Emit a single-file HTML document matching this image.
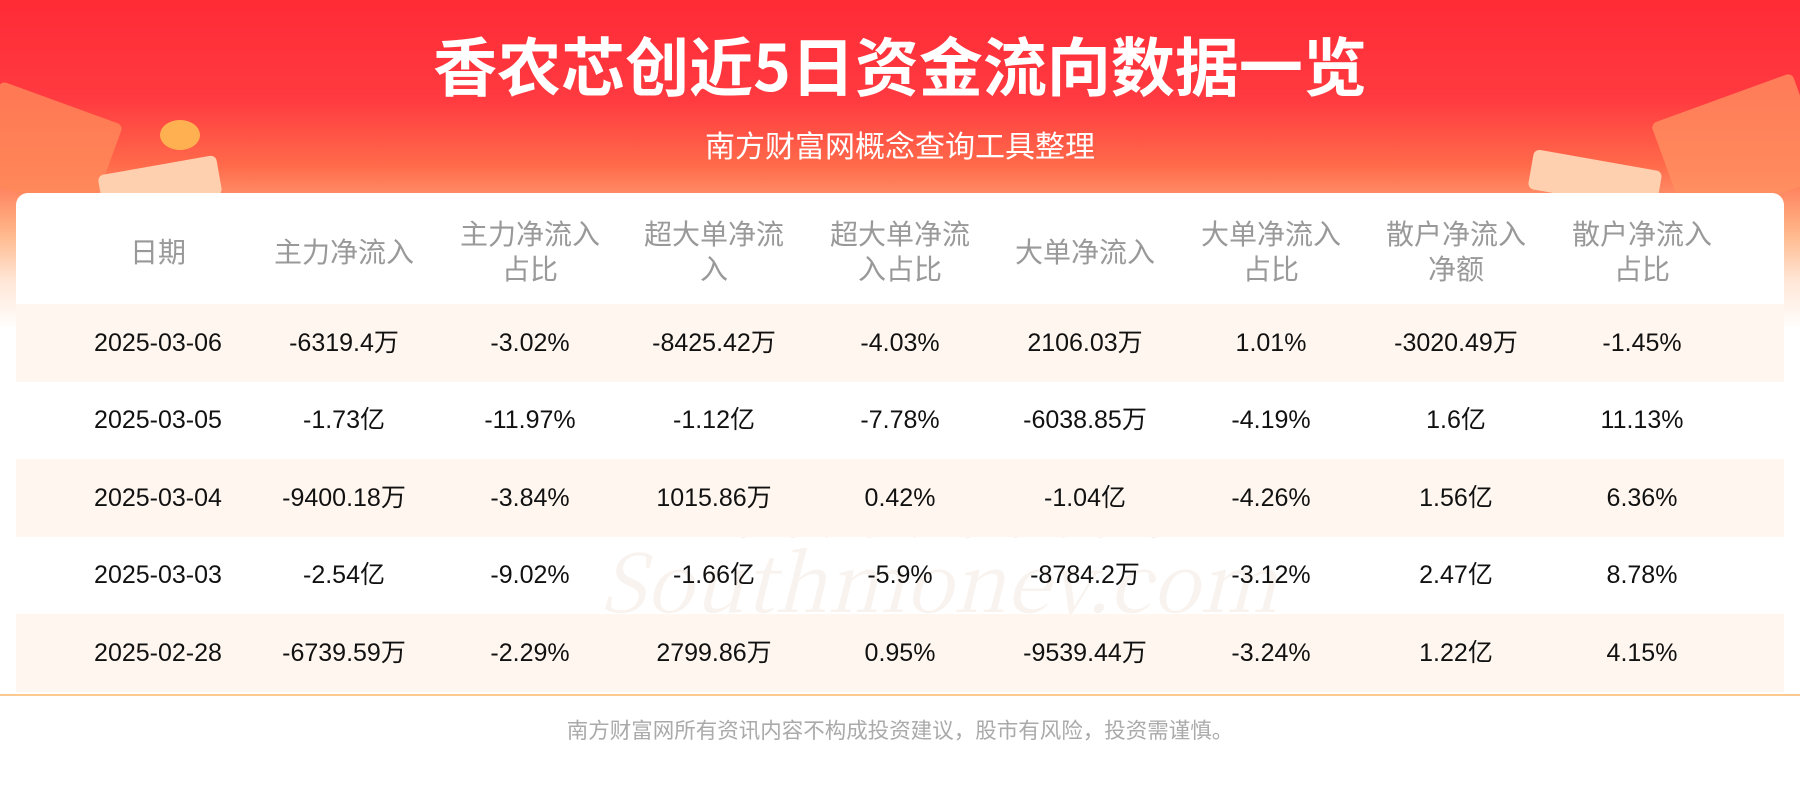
<!DOCTYPE html>
<html><head><meta charset="utf-8"><style>
*{margin:0;padding:0;box-sizing:border-box}
body{width:1800px;height:800px;overflow:hidden;background:#fff;font-family:"Liberation Sans","Noto Sans CJK SC",sans-serif;position:relative}
.bg{position:absolute;left:0;top:0;width:1800px;height:330px;background:linear-gradient(180deg,#ff2b36 0%,#ff3a40 30%,#ff6a4a 50%,#ffb487 70%,#ffe6d6 85%,#ffffff 100%)}
.deco{position:absolute;border-radius:6px}
.title{position:absolute;top:18px;width:1800px;text-align:center;color:#fff;font-size:64px;font-weight:bold;font-family:"Noto Sans CJK SC",sans-serif}
.sub{position:absolute;top:122px;width:1800px;text-align:center;color:#fff;font-size:30px;font-family:"Noto Sans CJK SC",sans-serif}
.card{position:absolute;left:16px;top:193px;width:1768px;height:505px;background:#fff;border-radius:12px}
.row{position:absolute;left:16px;width:1768px;height:78px}
.band{background:#fff7ef}
.c{position:absolute;top:0;width:186px;text-align:center;transform:translateX(-93px)}
.h{color:#999;font-size:28px;line-height:35px;font-family:"Noto Sans CJK SC",sans-serif;height:90px;display:flex;align-items:center;justify-content:center}
.d{color:#111;font-size:25px;height:78px;line-height:78px}
.line{position:absolute;left:0;top:694px;width:1800px;height:2px;background:#fcc98f}
.foot{position:absolute;top:714px;width:1800px;text-align:center;color:#aaa;font-size:21.5px;font-family:"Noto Sans CJK SC",sans-serif}
.wm{position:absolute;color:rgba(200,140,100,0.10);font-family:"Noto Serif CJK SC",serif}
</style></head><body>
<div class="bg"></div>
<div class="deco" style="left:-20px;top:100px;width:130px;height:100px;background:#ff8a5a;transform:rotate(20deg);opacity:.8"></div>
<div class="deco" style="left:100px;top:165px;width:120px;height:40px;background:#ffd0b0;transform:rotate(-10deg)"></div>
<div class="deco" style="left:160px;top:120px;width:40px;height:30px;background:#ffb050;border-radius:50%"></div>
<div class="deco" style="left:1665px;top:95px;width:150px;height:110px;background:#ff9060;transform:rotate(-20deg);opacity:.8"></div>
<div class="deco" style="left:1530px;top:160px;width:130px;height:40px;background:#ffd0b0;transform:rotate(10deg)"></div>
<div class="title">香农芯创近5日资金流向数据一览</div>
<div class="sub">南方财富网概念查询工具整理</div>
<div class="card"></div>
<div class="wm" style="left:730px;top:440px;font-size:80px;letter-spacing:10px">南方财富网</div>
<div class="wm" style="left:600px;top:520px;font-size:80px;font-style:italic">Southmoney.com</div>
<div class="row" style="top:206px;height:90px">
<div class="c h" style="left:142px">日期</div>
<div class="c h" style="left:328px">主力净流入</div>
<div class="c h" style="left:514px">主力净流入<br>占比</div>
<div class="c h" style="left:698px">超大单净流<br>入</div>
<div class="c h" style="left:884px">超大单净流<br>入占比</div>
<div class="c h" style="left:1069px">大单净流入</div>
<div class="c h" style="left:1255px">大单净流入<br>占比</div>
<div class="c h" style="left:1440px">散户净流入<br>净额</div>
<div class="c h" style="left:1626px">散户净流入<br>占比</div>
</div>
<div class="row band" style="top:304px"><div class="c d" style="left:142px">2025-03-06</div><div class="c d" style="left:328px">-6319.4万</div><div class="c d" style="left:514px">-3.02%</div><div class="c d" style="left:698px">-8425.42万</div><div class="c d" style="left:884px">-4.03%</div><div class="c d" style="left:1069px">2106.03万</div><div class="c d" style="left:1255px">1.01%</div><div class="c d" style="left:1440px">-3020.49万</div><div class="c d" style="left:1626px">-1.45%</div></div>
<div class="row" style="top:381px"><div class="c d" style="left:142px">2025-03-05</div><div class="c d" style="left:328px">-1.73亿</div><div class="c d" style="left:514px">-11.97%</div><div class="c d" style="left:698px">-1.12亿</div><div class="c d" style="left:884px">-7.78%</div><div class="c d" style="left:1069px">-6038.85万</div><div class="c d" style="left:1255px">-4.19%</div><div class="c d" style="left:1440px">1.6亿</div><div class="c d" style="left:1626px">11.13%</div></div>
<div class="row band" style="top:459px"><div class="c d" style="left:142px">2025-03-04</div><div class="c d" style="left:328px">-9400.18万</div><div class="c d" style="left:514px">-3.84%</div><div class="c d" style="left:698px">1015.86万</div><div class="c d" style="left:884px">0.42%</div><div class="c d" style="left:1069px">-1.04亿</div><div class="c d" style="left:1255px">-4.26%</div><div class="c d" style="left:1440px">1.56亿</div><div class="c d" style="left:1626px">6.36%</div></div>
<div class="row" style="top:536px"><div class="c d" style="left:142px">2025-03-03</div><div class="c d" style="left:328px">-2.54亿</div><div class="c d" style="left:514px">-9.02%</div><div class="c d" style="left:698px">-1.66亿</div><div class="c d" style="left:884px">-5.9%</div><div class="c d" style="left:1069px">-8784.2万</div><div class="c d" style="left:1255px">-3.12%</div><div class="c d" style="left:1440px">2.47亿</div><div class="c d" style="left:1626px">8.78%</div></div>
<div class="row band" style="top:614px"><div class="c d" style="left:142px">2025-02-28</div><div class="c d" style="left:328px">-6739.59万</div><div class="c d" style="left:514px">-2.29%</div><div class="c d" style="left:698px">2799.86万</div><div class="c d" style="left:884px">0.95%</div><div class="c d" style="left:1069px">-9539.44万</div><div class="c d" style="left:1255px">-3.24%</div><div class="c d" style="left:1440px">1.22亿</div><div class="c d" style="left:1626px">4.15%</div></div>
<div class="line"></div>
<div class="foot">南方财富网所有资讯内容不构成投资建议，股市有风险，投资需谨慎。</div>
</body></html>
